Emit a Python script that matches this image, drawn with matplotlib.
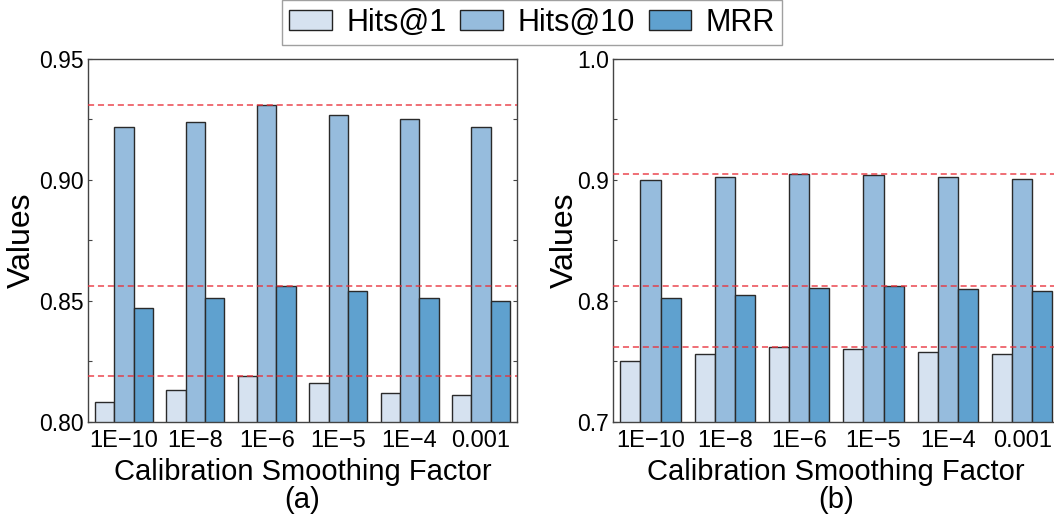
import numpy as np
import matplotlib.pyplot as plt
from matplotlib.patches import Patch
from matplotlib.ticker import AutoMinorLocator

plt.rcParams['font.family'] = ['Liberation Sans', 'DejaVu Sans']

factors = ['1E\u221210', '1E\u22128', '1E\u22126', '1E\u22125', '1E\u22124', '0.001']
series = ['Hits@1', 'Hits@10', 'MRR']

# panel (a)
a_hits1 = [0.808, 0.813, 0.819, 0.816, 0.812, 0.811]
a_hits10 = [0.922, 0.924, 0.931, 0.927, 0.925, 0.922]
a_mrr = [0.847, 0.851, 0.856, 0.854, 0.851, 0.850]

# panel (b)
b_hits1 = [0.750, 0.756, 0.762, 0.760, 0.758, 0.756]
b_hits10 = [0.900, 0.902, 0.905, 0.904, 0.902, 0.901]
b_mrr = [0.802, 0.805, 0.811, 0.812, 0.810, 0.808]

colors = ['#d6e2f0', '#96bcdd', '#5fa1cf']

fig = plt.figure(figsize=(10.54, 5.27), dpi=100)
ax1 = fig.add_axes([88.3 / 1054, 1 - 421.7 / 527, 428.4 / 1054, 362.7 / 527])
ax2 = fig.add_axes([613.3 / 1054, 1 - 421.7 / 527, 446 / 1054, 362.7 / 527])

x = np.arange(len(factors))
w = 0.27


def draw(ax, data, ylim, yticks, fmt, letter, lpad):
    for i, vals in enumerate(data):
        ax.bar(x + (i - 1) * w, vals, w, color=colors[i], edgecolor='#2a2a2a',
               linewidth=1.0, zorder=2)
        ax.axhline(max(vals), color='#e8323c', linestyle='--', linewidth=1.1,
                   dashes=(4, 2.5), zorder=3, alpha=0.9)
    ax.set_xlim(-0.5, len(factors) - 0.5)
    ax.set_ylim(*ylim)
    ax.set_yticks(yticks)
    ax.set_yticklabels([fmt.format(t) for t in yticks])
    ax.yaxis.set_minor_locator(AutoMinorLocator(2))
    ax.set_xticks(x)
    ax.set_xticklabels(factors)
    ax.tick_params(axis='x', labelsize=17, length=0, pad=6)
    ax.tick_params(axis='y', which='both', labelsize=16.5, direction='in', length=3,
                   width=0.8, color='#444444', left=True, right=True, pad=3)
    ax.set_ylabel('Values', fontsize=23, labelpad=lpad)
    ax.set_xlabel('Calibration Smoothing Factor\n(' + letter + ')', fontsize=21,
                  labelpad=4, linespacing=1.0)
    for s in ax.spines.values():
        s.set_color('#444444')
        s.set_linewidth(1.0)


draw(ax1, [a_hits1, a_hits10, a_mrr], (0.80, 0.95), [0.80, 0.85, 0.90, 0.95], '{:.2f}', 'a', 2)
draw(ax2, [b_hits1, b_hits10, b_mrr], (0.7, 1.0), [0.7, 0.8, 0.9, 1.0], '{:.1f}', 'b', -2)

handles = [Patch(facecolor=c, edgecolor='#222222', label=s) for c, s in zip(colors, series)]
fig.legend(handles=handles, loc='upper center', bbox_to_anchor=(532 / 1054, 1.0), ncol=3,
           fontsize=22, frameon=True, fancybox=False, edgecolor='#888888',
           handlelength=1.4, handleheight=0.62, columnspacing=0.46, handletextpad=0.46,
           borderpad=0.25, borderaxespad=0.0)

fig.savefig('out.png', dpi=100)
